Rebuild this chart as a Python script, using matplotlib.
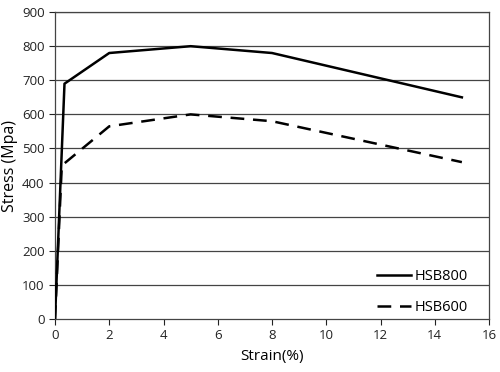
import matplotlib
matplotlib.use("Agg")
import matplotlib.pyplot as plt

strain_800 = [0, 0.35, 2, 5, 8, 15]
stress_800 = [0, 690, 780, 800, 780, 650]
strain_600 = [0, 0.25, 2, 5, 8, 15]
stress_600 = [0, 450, 565, 600, 580, 460]
xticks = [0, 2, 4, 6, 8, 10, 12, 14, 16]
yticks = [0, 100, 200, 300, 400, 500, 600, 700, 800, 900]

plt.rcParams['font.family'] = ['Open Sans', 'DejaVu Sans']
fig = plt.figure(figsize=(5, 3.72), dpi=100)
ax = fig.add_axes([0.11, 0.1425, 0.868, 0.825])
for y in yticks[1:]:
    ax.axhline(y, color='#444444', lw=0.9, zorder=1)
ax.plot(strain_800, stress_800, color='black', lw=1.8, label='HSB800', zorder=3)
ax.plot(strain_600, stress_600, color='black', lw=1.8, ls=(0, (5.5, 3.5)), label='HSB600', zorder=3)
ax.set_xlim(0, 16)
ax.set_ylim(0, 900)
ax.set_xticks(xticks)
ax.set_yticks(yticks)
ax.tick_params(labelsize=9.5, colors='#222222', length=4, width=0.8)
for s in ax.spines.values():
    s.set_color('#444444')
    s.set_linewidth(0.9)
ax.set_xlabel('Strain(%)', fontsize=11, labelpad=5)
ax.set_ylabel('Stress (Mpa)', fontsize=11.5, labelpad=3)
ax.legend(loc='lower right', bbox_to_anchor=(0.952, 0.012), frameon=False, fontsize=10.5,
          handlelength=2.35, labelspacing=1.1, handletextpad=0.25, borderpad=0, borderaxespad=0)
fig.savefig('out.png', dpi=100)
